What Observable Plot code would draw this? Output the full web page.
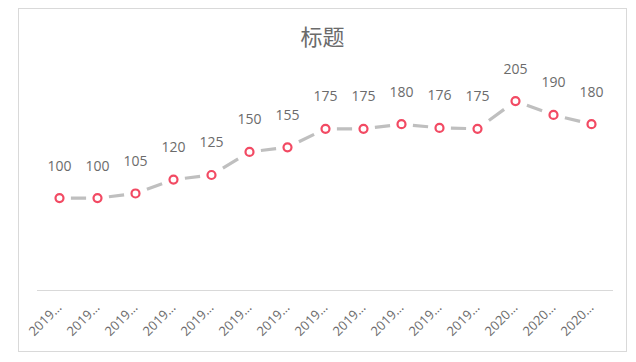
<!DOCTYPE html>
<html>
<head>
<meta charset="utf-8">
<script src="https://cdn.jsdelivr.net/npm/d3@7"></script>
<script src="https://cdn.jsdelivr.net/npm/@observablehq/plot@0.6"></script>
<style>
  html, body { margin: 0; padding: 0; background: #fff; }
  #frame {
    position: absolute; left: 18px; top: 8px;
    width: 607px; height: 342px;
    border: 1px solid #d9d9d9; background: #fff;
  }
  #title {
    height: 38px; padding-top: 0; box-sizing: border-box;
    text-align: center; font-family: "Noto Sans CJK SC", sans-serif;
    font-size: 22px; line-height: 52px; color: #6b6b6b;
  }
  #chart svg { display: block; }
</style>
</head>
<body>
<div id="frame">
  <div id="title">标题</div>
  <div id="chart"></div>
</div>
<script>
const tickLabels = ["2019…","2019…","2019…","2019…","2019…","2019…","2019…","2019…","2019…","2019…","2019…","2019…","2020…","2020…","2020…"];
const values = [100, 100, 105, 120, 125, 150, 155, 175, 175, 180, 176, 175, 205, 190, 180];

const idx = values.map((_, i) => i);
const points = values.map((v, i) => ({i, v}));
const segs = values.slice(1).map((v, k) => ({i1: k, v1: values[k], i2: k + 1, v2: v}));

const chart = Plot.plot({
  width: 607,
  height: 304,
  marginLeft: 18,
  marginRight: 13,
  marginTop: 12,
  marginBottom: 61,
  style: {fontFamily: "'Open Sans', 'Noto Sans CJK SC', sans-serif", background: "#fff"},
  x: {type: "point", domain: idx, padding: 0.5, label: null},
  y: {domain: [0, 250], axis: null},
  marks: [
    Plot.ruleY([0], {stroke: "#d9d9d9", strokeWidth: 1}),
    Plot.axisX({tickSize: 0, tickRotate: -45, tickPadding: 15, fontSize: 13, fill: "#6b6b6b", label: null,
      tickFormat: i => tickLabels[i]}),
    Plot.link(segs, {x1: "i1", y1: "v1", x2: "i2", y2: "v2", stroke: "#bfbfbf", strokeWidth: 3.2,
      strokeLinecap: "butt", className: "seglinks"}),
    Plot.dot(points, {x: "i", y: "v", r: 4, stroke: "#f24a63", strokeWidth: 2.2, fill: "#fff"}),
    Plot.text(points, {x: "i", y: "v", text: d => String(d.v), dy: -32, fontSize: 14, fill: "#6b6b6b"})
  ]
});
// dash pattern per segment: one centered dash
d3.select(chart).selectAll(".seglinks path")
  .attr("pathLength", 100)
  .attr("stroke-dasharray", "0,30,40,100");
document.getElementById("chart").appendChild(chart);
</script>
</body>
</html>
